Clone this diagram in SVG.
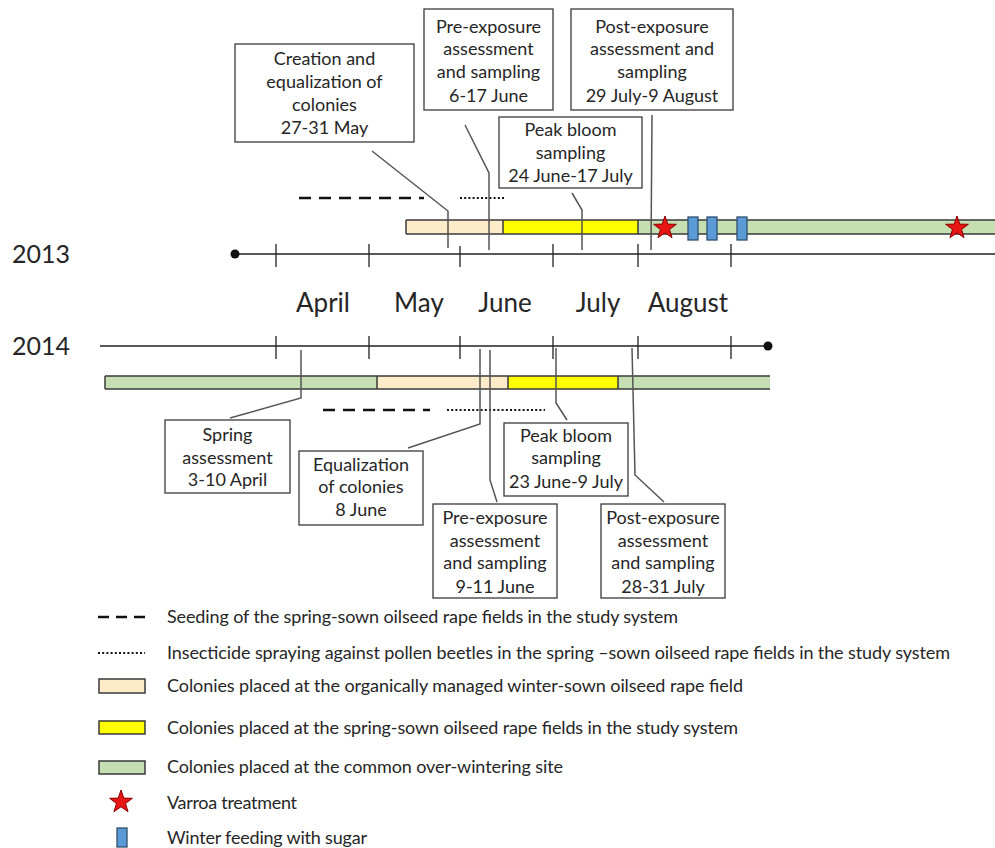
<svg xmlns="http://www.w3.org/2000/svg" width="995" height="848" viewBox="0 0 995 848">
<style>
text{font-family:Lato,"Liberation Sans",sans-serif;fill:#262626}
.bt{font-size:18px;text-anchor:middle}
.lg{font-size:18px}
.yr{font-size:25px}
.mo{font-size:26px;text-anchor:middle}
.box{fill:#fff;stroke:#3a3a3a;stroke-width:1.3}
.axis{stroke:#222;stroke-width:1.4;fill:none}
.tick{stroke:#222;stroke-width:1.3}
.lead{stroke:#555;stroke-width:1.5;fill:none}
.bar{stroke:#3a3a3a;stroke-width:1.5}
.cream{fill:#FDEBC9}
.yel{fill:#FFFF00}
.grn{fill:#C5DFB3}
.blue{fill:#5B9BD5;stroke:#2F4F6F;stroke-width:1.3}
.star{fill:#E81515;stroke:#8B0000;stroke-width:1}
.dash{stroke:#111;stroke-width:2.6;stroke-dasharray:12,8;fill:none}
.dot{stroke:#111;stroke-width:2.2;stroke-dasharray:2,2.2;fill:none}
</style>
<defs>
<path id="star" d="M0,-12 L2.82,-3.88 L11.41,-3.71 L4.56,1.48 L7.05,9.71 L0,4.8 L-7.05,9.71 L-4.56,1.48 L-11.41,-3.71 L-2.82,-3.88 Z"/>
</defs>
<rect width="995" height="848" fill="#fff"/>

<!-- Years and months -->
<text class="yr" x="12" y="263">2013</text>
<text class="yr" x="12" y="355">2014</text>
<text class="mo" x="323" y="312">April</text>
<text class="mo" x="419" y="312">May</text>
<text class="mo" x="505" y="312">June</text>
<text class="mo" x="598" y="312">July</text>
<text class="mo" x="688" y="312">August</text>

<!-- 2013 bars -->
<g id="bar2013">
<rect class="cream" x="406" y="220" width="97" height="14"/>
<rect class="yel" x="503" y="220" width="135" height="14"/>
<rect class="grn" x="638" y="220" width="360" height="14"/>
<path class="bar" d="M406,220H998M406,234H998M406,220V234M503,220V234M638,220V234"/>
</g>
<!-- 2014 bars -->
<g id="bar2014">
<rect class="grn" x="105" y="376" width="272" height="13"/>
<rect class="cream" x="377" y="376" width="131" height="13"/>
<rect class="yel" x="508" y="376" width="110" height="13"/>
<rect class="grn" x="618" y="376" width="152" height="13"/>
<path class="bar" d="M105,376H770M105,389H770M105,376V389M377,376V389M508,376V389M618,376V389"/>
</g>

<!-- seeding/spraying -->
<path class="dash" d="M299,198H424"/>
<path class="dot" d="M460,198H505"/>
<path class="dash" d="M323,410H430"/>
<path class="dot" d="M447,410H545"/>

<!-- 2013 axis -->
<g id="axis2013">
<path class="axis" d="M235,254H995"/>
<circle cx="235" cy="254" r="4.5" fill="#111"/>
<path class="tick" d="M276,244V267M369,244V267M460,246V267M553,244V267M638,244V267M731,244V267"/>
</g>
<!-- 2014 axis -->
<g id="axis2014">
<path class="axis" d="M100,346H768"/>
<circle cx="768" cy="346" r="4.5" fill="#111"/>
<path class="tick" d="M276,336V359M369,336V359M460,336V359M553,336V359M638,336V359M731,336V359"/>
</g>

<!-- markers -->
<g id="markers">
<use href="#star" class="star" x="665" y="228"/>
<use href="#star" class="star" x="957" y="228"/>
<rect class="blue" x="688" y="217" width="10" height="23"/>
<rect class="blue" x="707" y="217" width="10" height="23"/>
<rect class="blue" x="737" y="217" width="10" height="23"/>
</g>

<!-- connectors -->
<g id="connectors">
<polyline class="lead" points="372,151 448,211 448,248"/>
<polyline class="lead" points="465,125 489,173 489,250"/>
<polyline class="lead" points="572,193 582,210 582,250"/>
<polyline class="lead" points="652,115 651,250"/>
<polyline class="lead" points="301,350 301,398 230,418"/>
<polyline class="lead" points="480,349 480,424 408,448"/>
<polyline class="lead" points="490,350 490,480 497,502"/>
<polyline class="lead" points="556,348 556,403 567,420"/>
<polyline class="lead" points="632,348 635,475 664,502"/>
</g>

<!-- 2013 boxes -->
<g id="n-creation">
<rect class="box" x="235" y="44" width="179" height="98"/>
<text class="bt" x="324.5" y="65">Creation and</text>
<text class="bt" x="324.5" y="88">equalization of</text>
<text class="bt" x="324.5" y="111">colonies</text>
<text class="bt" x="324.5" y="134">27-31 May</text>
</g>
<g id="n-pre2013">
<rect class="box" x="424" y="9" width="129" height="101"/>
<text class="bt" x="488.5" y="33">Pre-exposure</text>
<text class="bt" x="488.5" y="55">assessment</text>
<text class="bt" x="488.5" y="78">and sampling</text>
<text class="bt" x="488.5" y="102">6-17 June</text>
</g>
<g id="n-peak2013">
<rect class="box" x="499" y="117" width="143" height="71"/>
<text class="bt" x="570.5" y="136">Peak bloom</text>
<text class="bt" x="570.5" y="159">sampling</text>
<text class="bt" x="570.5" y="182">24 June-17 July</text>
</g>
<g id="n-post2013">
<rect class="box" x="571" y="9" width="162" height="101"/>
<text class="bt" x="652" y="33">Post-exposure</text>
<text class="bt" x="652" y="55">assessment and</text>
<text class="bt" x="652" y="78">sampling</text>
<text class="bt" x="652" y="102">29 July-9 August</text>
</g>

<!-- 2014 boxes -->
<g id="n-spring">
<rect class="box" x="165" y="420" width="125" height="73"/>
<text class="bt" x="227.5" y="441">Spring</text>
<text class="bt" x="227.5" y="464">assessment</text>
<text class="bt" x="227.5" y="486">3-10 April</text>
</g>
<g id="n-equal">
<rect class="box" x="299" y="451" width="124" height="74"/>
<text class="bt" x="361" y="471">Equalization</text>
<text class="bt" x="361" y="493">of colonies</text>
<text class="bt" x="361" y="516">8 June</text>
</g>
<g id="n-peak2014">
<rect class="box" x="504" y="423" width="124" height="73"/>
<text class="bt" x="566" y="442">Peak bloom</text>
<text class="bt" x="566" y="464">sampling</text>
<text class="bt" x="566" y="488">23 June-9 July</text>
</g>
<g id="n-pre2014">
<rect class="box" x="433" y="504" width="124" height="94"/>
<text class="bt" x="495" y="524">Pre-exposure</text>
<text class="bt" x="495" y="547">assessment</text>
<text class="bt" x="495" y="569">and sampling</text>
<text class="bt" x="495" y="593">9-11 June</text>
</g>
<g id="n-post2014">
<rect class="box" x="601" y="504" width="124" height="94"/>
<text class="bt" x="663" y="524">Post-exposure</text>
<text class="bt" x="663" y="547">assessment</text>
<text class="bt" x="663" y="569">and sampling</text>
<text class="bt" x="663" y="593">28-31 July</text>
</g>

<!-- legend -->
<g id="legend">
<path stroke="#111" stroke-width="2.4" stroke-dasharray="11,7" d="M98,617H145"/>
<text class="lg" x="167" y="623" textLength="511">Seeding of the spring-sown oilseed rape fields in the study system</text>
<path class="dot" d="M98,653H145"/>
<text class="lg" x="167" y="659" textLength="783">Insecticide spraying against pollen beetles in the spring –sown oilseed rape fields in the study system</text>
<rect class="cream" x="99" y="679" width="46" height="14" stroke="#3a3a3a" stroke-width="1.5"/>
<text class="lg" x="167" y="692" textLength="576">Colonies placed at the organically managed winter-sown oilseed rape field</text>
<rect class="yel" x="99" y="721" width="46" height="13" stroke="#3a3a3a" stroke-width="1.5"/>
<text class="lg" x="167" y="734" textLength="571">Colonies placed at the spring-sown oilseed rape fields in the study system</text>
<rect class="grn" x="99" y="761" width="46" height="13" stroke="#3a3a3a" stroke-width="1.5"/>
<text class="lg" x="167" y="773" textLength="396">Colonies placed at the common over-wintering site</text>
<use href="#star" class="star" x="121" y="802"/>
<text class="lg" x="167" y="809" textLength="130">Varroa treatment</text>
<rect class="blue" x="117" y="828" width="10" height="19"/>
<text class="lg" x="167" y="844" textLength="200">Winter feeding with sugar</text>
</g>
</svg>
